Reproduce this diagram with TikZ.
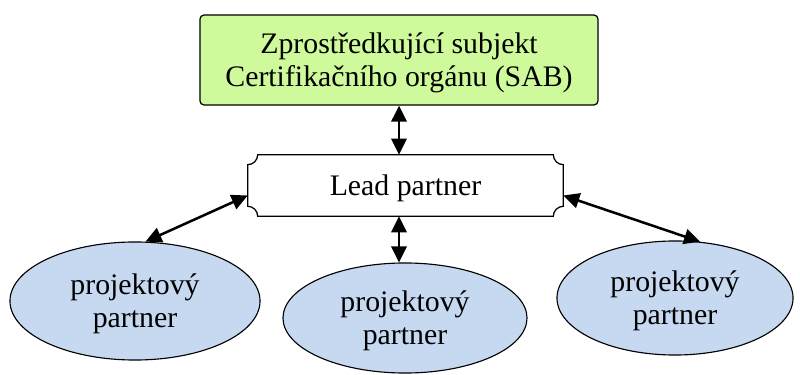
\documentclass[tikz,border=0pt]{standalone}
\usepackage{fontspec}
\setmainfont{Liberation Serif}
\usetikzlibrary{shapes.geometric,arrows.meta}
\definecolor{sabgreen}{RGB}{206,250,155}
\definecolor{partnerblue}{RGB}{198,217,241}

\begin{document}
\begin{tikzpicture}[x=0.025cm, y=0.025cm,
  boxtext/.style={font=\fontsize{21.2}{23.4}\selectfont, align=center, text depth=0pt},
  partner/.style={boxtext, ellipse, draw, line width=0.8pt, fill=partnerblue, inner sep=0pt},
  link/.style={{Triangle[length=0.4cm,width=0.38cm]}-{Triangle[length=0.4cm,width=0.38cm]}, line width=1.8pt}]
  \useasboundingbox (0,0) rectangle (800,374);

  % Top box - SAB
  \node[boxtext, draw, rounded corners=3pt, fill=sabgreen, line width=0.9pt, minimum width=9.95cm, minimum height=2.25cm] (sab) at (399,314) {Zprostředkující subjekt\\Certifikačního orgánu (SAB)};

  % Lead partner - plaque outline
  \node[boxtext, minimum width=7.875cm, minimum height=1.525cm] (lead) at (405.5,188.5) {Lead partner};
  \draw[line width=0.9pt] ([xshift=0.25cm]lead.north west) -- ([xshift=-0.25cm]lead.north east)
    arc[start angle=180, end angle=270, radius=0.25cm] -- ([yshift=0.25cm]lead.south east)
    arc[start angle=90, end angle=180, radius=0.25cm] -- ([xshift=0.25cm]lead.south west)
    arc[start angle=0, end angle=90, radius=0.25cm] -- ([yshift=-0.25cm]lead.north west)
    arc[start angle=270, end angle=360, radius=0.25cm] -- cycle;

  % Project partners
  \node[partner, minimum width=6.25cm, minimum height=2.95cm] (left) at (135,73) {projektový\\partner};
  \node[partner, minimum width=6.1cm, minimum height=2.75cm] (mid) at (405,56) {projektový\\partner};
  \node[partner, minimum width=5.9cm, minimum height=2.85cm] (right) at (675,76) {projektový\\partner};

  % Arrows
  \draw[link] (sab.south) -- (sab.south |- lead.north);
  \draw[link] (lead.south -| sab.south) -- (mid.north -| sab.south);
  \draw[link] ([yshift=-0.25cm]lead.west) -- (left.80);
  \draw[link] ([yshift=-0.25cm]lead.east) -- (right.66);
\end{tikzpicture}
\end{document}
